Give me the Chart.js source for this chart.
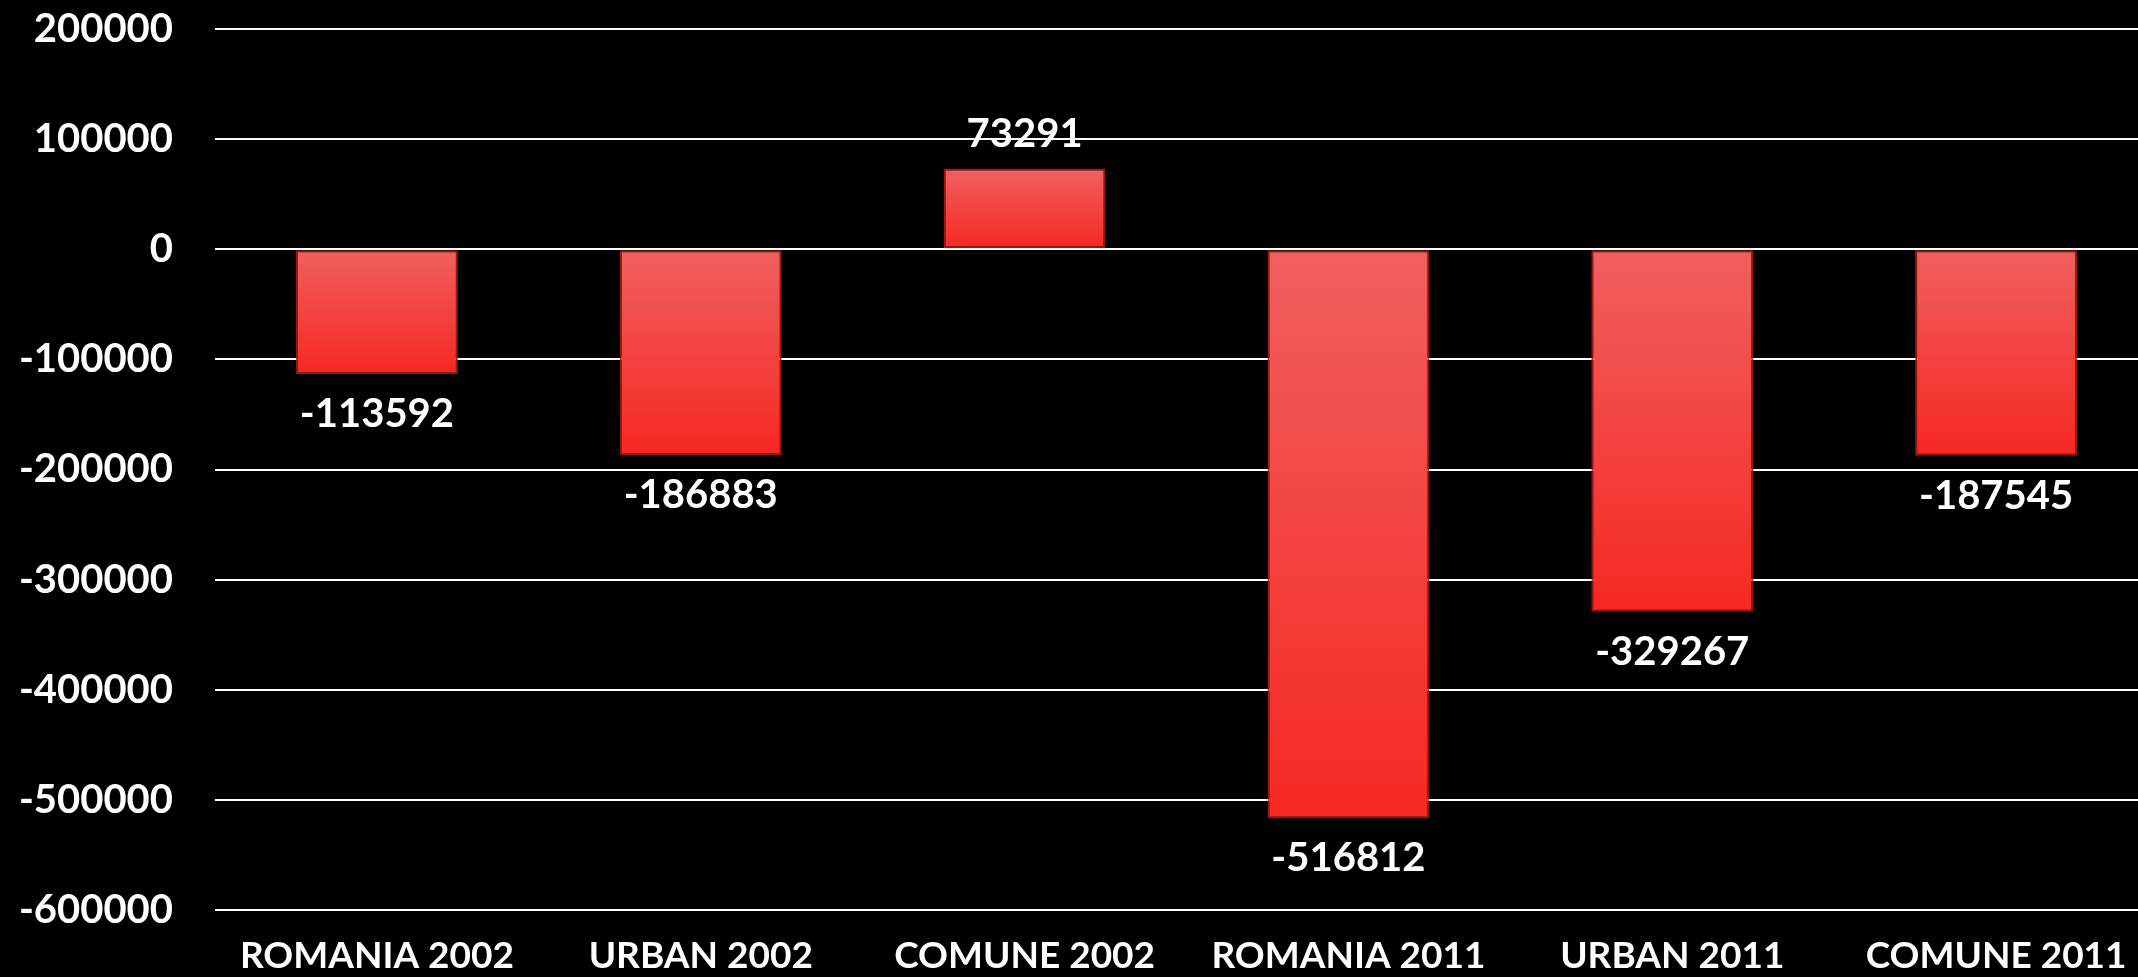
<!DOCTYPE html>
<html>
<head>
<meta charset="utf-8">
<script src="https://cdn.jsdelivr.net/npm/chart.js@4/dist/chart.umd.min.js"></script>
<style>
  html, body { margin: 0; padding: 0; background: #000; overflow: hidden; }
  #wrap { width: 2158px; height: 977px; }
</style>
</head>
<body>
<div id="wrap"><canvas id="chart-1" width="2158" height="977"></canvas></div>
<script>
const categories = ['ROMANIA 2002', 'URBAN 2002', 'COMUNE 2002', 'ROMANIA 2011', 'URBAN 2011', 'COMUNE 2011'];
const values = [-113592, -186883, 73291, -516812, -329267, -187545];
const yMin = -600000;
const yMax = 200000;
const yStep = 100000;

const fontFamily = 'Lato, "Liberation Sans", sans-serif';

function barGradient(context) {
  const chart = context.chart;
  const y = chart.scales.y;
  if (!y || context.raw === undefined) return '#f03a34';
  const v = context.raw;
  const top = y.getPixelForValue(Math.max(v, 0));
  const bottom = y.getPixelForValue(Math.min(v, 0));
  if (!isFinite(top) || !isFinite(bottom) || top === bottom) return '#f03a34';
  const g = chart.ctx.createLinearGradient(0, top, 0, bottom);
  g.addColorStop(0, 'rgb(240, 96, 94)');
  g.addColorStop(1, 'rgb(246, 40, 34)');
  return g;
}

// value labels: below negative bars, above positive ones
const valueLabels = {
  id: 'valueLabels',
  afterDatasetsDraw(chart) {
    const ctx = chart.ctx;
    const meta = chart.getDatasetMeta(0);
    ctx.save();
    ctx.fillStyle = '#fff';
    ctx.font = 'bold 40px ' + fontFamily;
    ctx.textAlign = 'center';
    ctx.textBaseline = 'middle';
    meta.data.forEach((bar, i) => {
      const v = values[i];
      const y = v < 0 ? bar.y + 40 : bar.y - 34;
      ctx.fillText(String(v), bar.x, y);
    });
    ctx.restore();
  }
};

const ctx1 = document.getElementById('chart-1').getContext('2d');

const myChart = new Chart(ctx1, {
  type: 'bar',
  data: {
    labels: categories,
    datasets: [{
      data: values,
      backgroundColor: barGradient,
      borderColor: 'rgba(165, 25, 22, 0.9)',
      borderWidth: 2,
      borderSkipped: false,
      categoryPercentage: 1,
      barPercentage: 0.5
    }]
  },
  options: {
    responsive: false,
    devicePixelRatio: 1,
    animation: false,
    layout: { padding: { top: 29, right: 0, left: 0, bottom: 0 } },
    plugins: {
      legend: { display: false },
      tooltip: { enabled: false }
    },
    scales: {
      x: {
        grid: { display: false, drawTicks: false },
        border: { display: false },
        ticks: {
          color: '#fff',
          padding: 24,
          maxRotation: 0,
          autoSkip: false,
          font: { family: fontFamily, size: 37, weight: 'bold' }
        },
        afterFit(scale) { scale.height = 67; }
      },
      y: {
        min: yMin,
        max: yMax,
        grid: { color: '#ffffff', lineWidth: 2, drawTicks: true, tickLength: 42, tickColor: 'rgba(0,0,0,0)' },
        border: { display: false },
        ticks: {
          stepSize: yStep,
          color: '#fff',
          padding: 0,
          font: { family: fontFamily, size: 40, weight: 'bold', lineHeight: 1.2 },
          callback: (v) => String(v)
        },
        afterFit(scale) { scale.width = 215; }
      }
    }
  },
  plugins: [valueLabels]
});
</script>
</body>
</html>
